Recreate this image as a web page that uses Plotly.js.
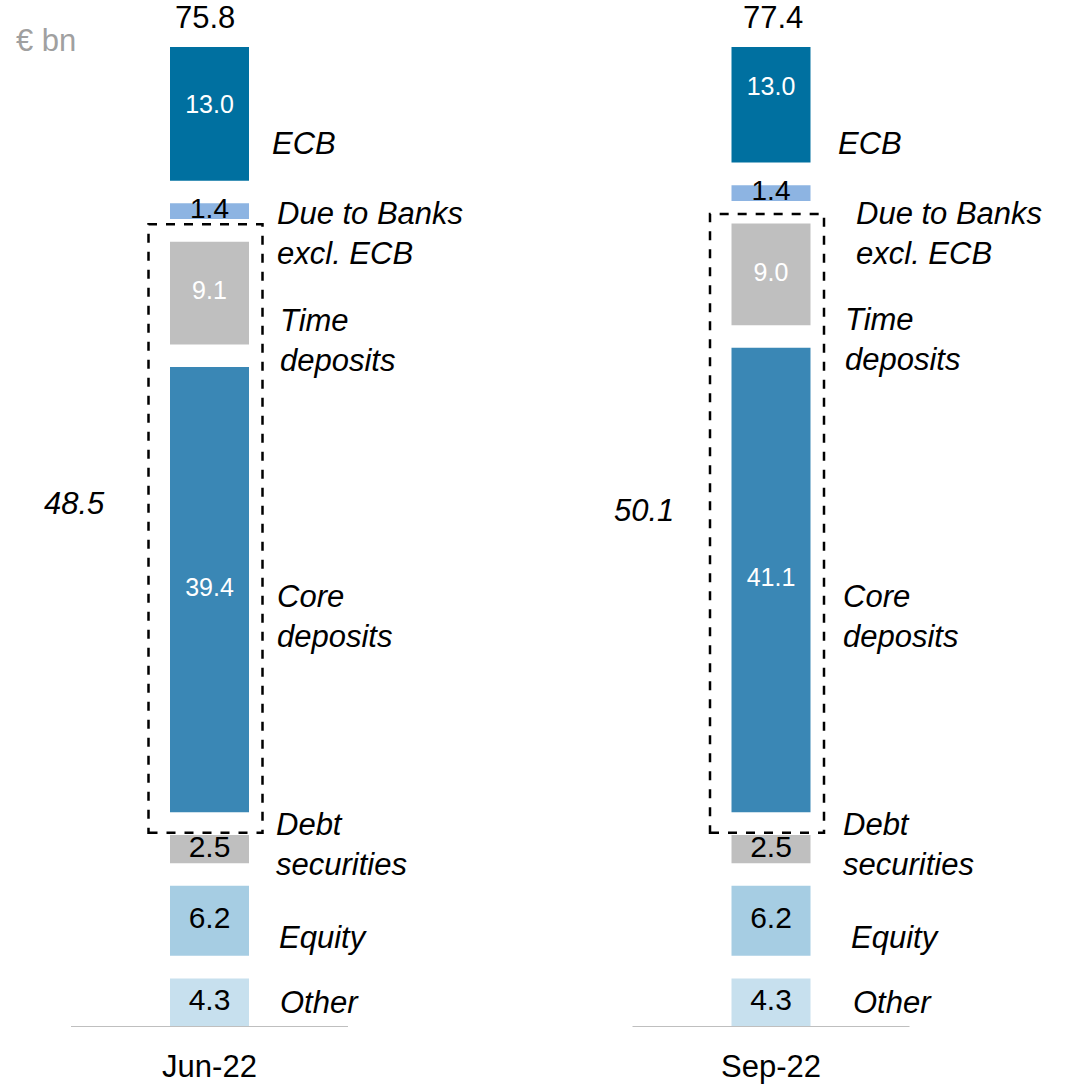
<!DOCTYPE html>
<html>
<head>
<meta charset="utf-8">
<script src="https://cdn.plot.ly/plotly-3.0.1.min.js"></script>
<style>
  html, body { margin: 0; padding: 0; background: #ffffff; }
  #chart { width: 1076px; height: 1084px; }
</style>
</head>
<body>
<div id="chart"></div>
<script>
// ---------------- DATA ----------------
const categories = ["Jun-22", "Sep-22"];
const other = [4.3, 4.3];
const equity = [6.2, 6.2];
const debtSecurities = [2.5, 2.5];
const coreDeposits = [39.4, 41.1];
const timeDeposits = [9.1, 9.0];
const dueToBanks = [1.4, 1.4];
const ecb = [13.0, 13.0];
const totals = [75.8, 77.4];
const depositTotals = [48.5, 50.1];
const unitLabel = "€ bn";

// ---------------- STYLE / LAYOUT ----------------
const FONT = "Liberation Sans, Arial, sans-serif";
const W = 1076, H = 1084;
const PLOT_TOP = 47, PLOT_BOTTOM = 1027;
const PLOT_H = PLOT_BOTTOM - PLOT_TOP;
const PX_PER_UNIT = 11.3;
const Y_MAX = PLOT_H / PX_PER_UNIT;
const X_PX_PER_CAT = 561.5;          // pixel distance between the two bars
const X_FIRST_PX = 209.5;            // pixel centre of first bar
const X_MIN = -X_FIRST_PX / X_PX_PER_CAT;
const X_MAX = (W - X_FIRST_PX) / X_PX_PER_CAT;
const GAP = 2.0;                     // visual gap between segments (value units)
const BAR_WIDTH = 79 / X_PX_PER_CAT;

const pyToY = py => (PLOT_BOTTOM - py) / PX_PER_UNIT;
const pyToPaper = py => (PLOT_BOTTOM - py) / PLOT_H;

const segments = [
  { key: "Other",        vals: other,          color: "#C7E0EE", txt: "#000000", size: 30,
    label: "Other",                   pos: [[68, 1002], [80, 1002]] },
  { key: "Equity",       vals: equity,         color: "#A6CDE3", txt: "#000000", size: 30,
    label: "Equity",                  pos: [[67, 937], [78, 937]] },
  { key: "Debt securities", vals: debtSecurities, color: "#BFBFBF", txt: "#000000", size: 30,
    label: "Debt<br>securities",      pos: [[64.5, 844], [69.5, 844]] },
  { key: "Core deposits", vals: coreDeposits,  color: "#3A87B5", txt: "#FFFFFF", size: 25,
    label: "Core<br>deposits",        pos: [[65, 616], [69.5, 616]] },
  { key: "Time deposits", vals: timeDeposits,  color: "#BFBFBF", txt: "#FFFFFF", size: 25,
    label: "Time<br>deposits",        pos: [[68, 340], [71.5, 339]] },
  { key: "Due to Banks excl. ECB", vals: dueToBanks, color: "#8DB4E2", txt: "#000000", size: 28,
    label: "Due to Banks<br>excl. ECB", pos: [[65, 233], [82.5, 233]] },
  { key: "ECB",          vals: ecb,            color: "#0070A0", txt: "#FFFFFF", size: 25,
    label: "ECB",                     pos: [[60, 143], [64.5, 143]] }
];

// compute bases
const running = categories.map(() => 0);
segments.forEach(s => {
  s.base = running.slice();
  s.vals.forEach((v, i) => { running[i] += v + GAP; });
});

const traces = [];
segments.forEach(s => {
  traces.push({
    type: "bar",
    name: s.key,
    x: categories,
    y: s.vals,
    base: s.base,
    width: BAR_WIDTH,
    marker: { color: s.color, line: { width: 0 } },
    hoverinfo: "skip",
    showlegend: false
  });
});
segments.forEach(s => {
  traces.push({
    type: "scatter",
    mode: "text",
    x: categories,
    y: s.vals.map((v, i) => s.base[i] + v / 2),
    text: s.vals.map(v => v.toFixed(1)),
    textposition: "middle center",
    textfont: { family: FONT, size: s.size, color: s.txt },
    hoverinfo: "skip",
    showlegend: false,
    cliponaxis: false
  });
});

const annotations = [];

// totals above bars
const totalPos = [[-4.5, 18], [2, 18]];
categories.forEach((c, i) => {
  annotations.push({
    xref: "x", yref: "paper",
    x: i, y: pyToPaper(totalPos[i][1]),
    xshift: totalPos[i][0],
    xanchor: "center", yanchor: "middle",
    text: totals[i].toFixed(1),
    showarrow: false,
    font: { family: FONT, size: 31, color: "#000000" }
  });
});

// category labels to the right of bars
segments.forEach(s => {
  categories.forEach((c, i) => {
    annotations.push({
      xref: "x", yref: "y",
      x: i, y: pyToY(s.pos[i][1]),
      xshift: s.pos[i][0],
      xanchor: "left", yanchor: "middle", align: "left",
      text: "<i>" + s.label + "</i>",
      showarrow: false,
      font: { family: FONT, size: 31, color: "#000000" }
    });
  });
});

// deposit totals (italic, left of the dashed boxes)
const depPos = [[-135, 503], [-127, 510]];
categories.forEach((c, i) => {
  annotations.push({
    xref: "x", yref: "y",
    x: i, y: pyToY(depPos[i][1]),
    xshift: depPos[i][0],
    xanchor: "center", yanchor: "middle",
    text: "<i>" + depositTotals[i].toFixed(1) + "</i>",
    showarrow: false,
    font: { family: FONT, size: 31, color: "#000000" }
  });
});

// unit label
annotations.push({
  xref: "paper", yref: "paper",
  x: 14 / W, y: pyToPaper(41),
  xanchor: "left", yanchor: "middle",
  text: unitLabel,
  showarrow: false,
  font: { family: FONT, size: 31, color: "#A0A0A0" }
});

// shapes: dashed deposit boxes and baseline segments
const coreSeg = segments[3], timeSeg = segments[4];
const boxPadTop = [1.55, 0.85];
const boxPadBottom = 1.8;
const shapes = [];
categories.forEach((c, i) => {
  shapes.push({
    type: "rect", xref: "x", yref: "y",
    x0: i - 61 / X_PX_PER_CAT, x1: i + 53 / X_PX_PER_CAT,
    y0: coreSeg.base[i] - boxPadBottom,
    y1: timeSeg.base[i] + timeSeg.vals[i] + boxPadTop[i],
    line: { color: "#000000", width: 2.5, dash: "dash" },
    fillcolor: "rgba(0,0,0,0)",
    layer: "above"
  });
  shapes.push({
    type: "line", xref: "x", yref: "y",
    x0: i - 138.5 / X_PX_PER_CAT, x1: i + 138.5 / X_PX_PER_CAT,
    y0: 0, y1: 0,
    line: { color: "#BFBFBF", width: 2 },
    layer: "above"
  });
});

const layout = {
  width: W, height: H,
  margin: { l: 0, r: 0, t: PLOT_TOP, b: H - PLOT_BOTTOM, pad: 0 },
  paper_bgcolor: "#ffffff",
  plot_bgcolor: "#ffffff",
  barmode: "overlay",
  showlegend: false,
  font: { family: FONT, color: "#000000" },
  xaxis: {
    type: "category",
    range: [X_MIN, X_MAX],
    showgrid: false, zeroline: false, showline: false,
    ticks: "",
    tickfont: { family: FONT, size: 31, color: "#000000" },
    ticklabelstandoff: 18,
    fixedrange: true
  },
  yaxis: {
    range: [0, Y_MAX],
    showgrid: false, zeroline: false, showline: false,
    showticklabels: false, ticks: "",
    fixedrange: true
  },
  annotations: annotations,
  shapes: shapes
};

Plotly.newPlot("chart", traces, layout, { displayModeBar: false, staticPlot: true });
</script>
</body>
</html>
